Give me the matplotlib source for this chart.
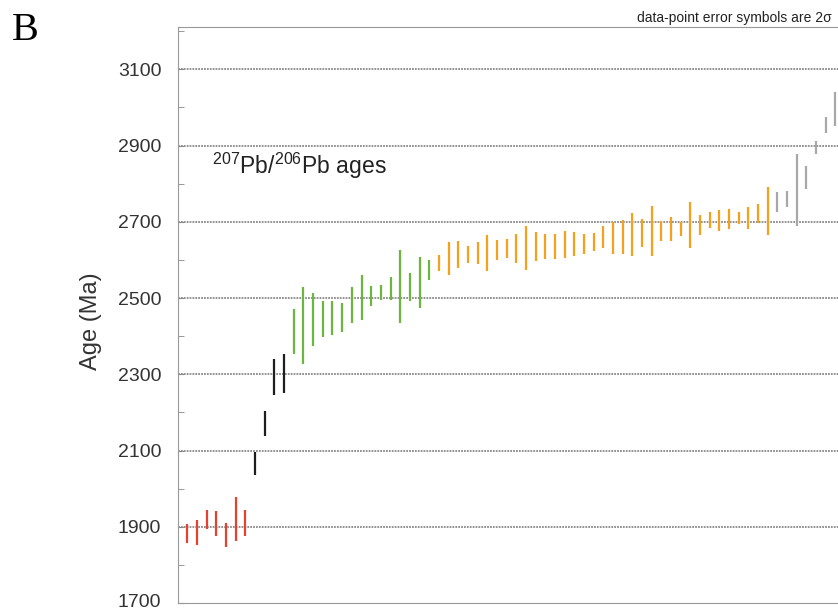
import numpy as np
import matplotlib
matplotlib.use("Agg")
import matplotlib.pyplot as plt
from matplotlib.transforms import ScaledTranslation

plt.rcParams['font.family'] = ['Liberation Sans', 'DejaVu Sans']
plt.rcParams['mathtext.fontset'] = 'custom'
plt.rcParams['mathtext.rm'] = 'Liberation Sans'
plt.rcParams['mathtext.default'] = 'regular'

# 207Pb/206Pb ages (Ma) and 2 sigma errors, in plotting order
red_age = [1883, 1885, 1920, 1908, 1878, 1920, 1910]
red_err = [25, 32, 25, 33, 31, 58, 34]

black_age = [2066, 2171, 2293, 2302]
black_err = [31, 33, 48, 50]

green_age = [2411, 2428, 2443, 2445, 2447, 2449, 2482, 2501, 2505, 2515,
             2525, 2530, 2529, 2540, 2573]
green_err = [59, 100, 69, 46, 44, 37, 47, 59, 27, 19, 30, 96, 37, 67, 26]

orange_age = [2591, 2604, 2614, 2615, 2618, 2618, 2626, 2630, 2631, 2632,
              2634, 2635, 2635, 2640, 2642, 2641, 2647, 2660, 2658, 2661,
              2667, 2671, 2676, 2675, 2681, 2681, 2692, 2692, 2705, 2704,
              2707, 2710, 2711, 2721, 2728]
orange_err = [21, 44, 36, 22, 30, 48, 25, 26, 38, 58,
              38, 32, 32, 36, 31, 26, 24, 30, 42, 45,
              57, 36, 66, 26, 31, 19, 60, 26, 22, 28,
              26, 17, 29, 25, 63]

gray_age = [2753, 2760, 2784, 2817, 2894, 2954, 2996]
gray_err = [26, 20, 95, 30, 17, 22, 45]

groups = [
    (red_age, red_err, '#e8402f'),
    (black_age, black_err, '#1e1e1e'),
    (green_age, green_err, '#6cb53e'),
    (orange_age, orange_err, '#f5a11c'),
    (gray_age, gray_err, '#a8a8a8'),
]

grid_ages = [1900, 2100, 2300, 2500, 2700, 2900, 3100]

fig = plt.figure(figsize=(8.38, 6.11), dpi=100)
# axes runs past the right edge of the figure, as in the cropped original
ax = fig.add_axes([178 / 838, 8 / 611, 672 / 838, 576 / 611])

i0 = 0
for age, err, col in groups:
    age = np.array(age)
    err = np.array(err)
    x = np.arange(i0, i0 + len(age))
    ax.vlines(x, age - err, age + err, color=col, lw=1.6, zorder=3)
    i0 += len(age)

for g in grid_ages:
    ax.axhline(g, color='#8a8a8a', lw=1.3, ls=(0, (1, 0.6)), zorder=1)

ax.set_xlim(-0.97, 68.5)
ax.set_ylim(1700, 3211)
ax.set_yticks([1700, 1900, 2100, 2300, 2500, 2700, 2900, 3100])
ax.set_yticks(np.arange(1800, 3201, 200), minor=True)
ax.tick_params(axis='y', which='both', direction='in', length=4, color='#888888',
               labelsize=14, labelcolor='#333333', pad=12)
ax.tick_params(axis='x', which='both', bottom=False, labelbottom=False)
for s in ['left', 'top', 'bottom']:
    ax.spines[s].set_color('#999999')
ax.spines['right'].set_visible(False)

# nudge the bottom label up a little so it stays inside the image
lab = ax.get_yticklabels()[0]
lab.set_transform(lab.get_transform() + ScaledTranslation(0, 2 / 72, fig.dpi_scale_trans))

fig.text(91 / 838, 1 - 321 / 611, 'Age (Ma)', fontsize=17, color='#333333',
         rotation=90, ha='center', va='center')

fig.text(212 / 838, 1 - 174 / 611, r'$^{207}$Pb/$^{206}$Pb ages', fontsize=16.5,
         color='#222222', ha='left', va='baseline')
fig.text(832 / 838, 1 - 22 / 611, 'data-point error symbols are 2σ', fontsize=10,
         color='#222222', ha='right', va='baseline')
fig.text(12 / 838, 1 - 40 / 611, 'B', fontsize=29, family='Liberation Serif',
         ha='left', va='baseline')

fig.savefig('out.png', dpi=100)
